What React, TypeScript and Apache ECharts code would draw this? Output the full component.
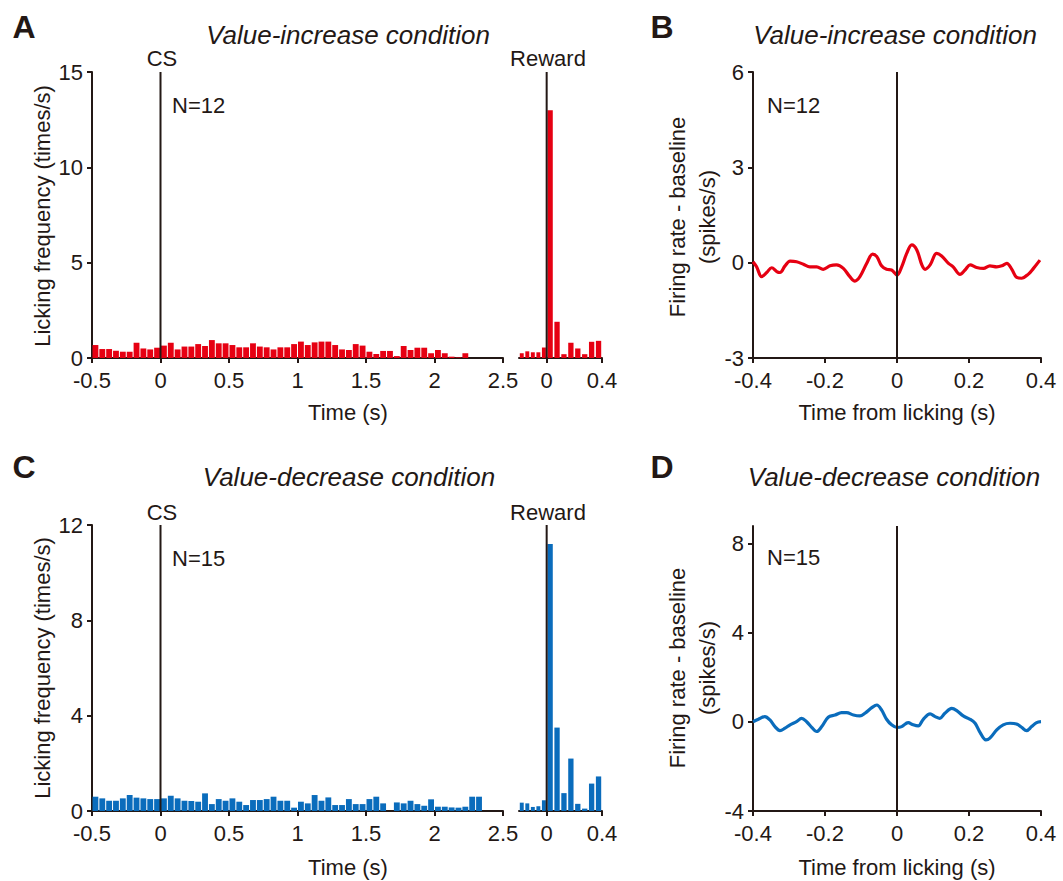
import React, { useEffect, useRef } from "react";
import * as echarts from "echarts";

// ---------- data ----------
// Licking histograms, 0.05 s bins from -0.5 s to 2.5 s (aligned to CS)
const csBinStart = -0.5;
const csBinWidth = 0.05;
const lickIncreaseCS = [
  0.68, 0.47, 0.47, 0.38, 0.33, 0.33, 0.8, 0.5, 0.45, 0.54,
  0.65, 0.8, 0.45, 0.6, 0.6, 0.73, 0.63, 0.94, 0.77, 0.77,
  0.68, 0.56, 0.56, 0.77, 0.6, 0.56, 0.45, 0.56, 0.56, 0.73,
  0.86, 0.68, 0.82, 0.86, 0.86, 0.68, 0.45, 0.42, 0.73, 0.65,
  0.33, 0.21, 0.37, 0.37, 0.1, 0.63, 0.42, 0.54, 0.54, 0.25,
  0.42, 0.25, 0.07, 0.03, 0.25, 0, 0, 0, 0, 0,
];
const lickDecreaseCS = [
  0.6, 0.53, 0.43, 0.43, 0.53, 0.67, 0.56, 0.53, 0.5, 0.5,
  0.53, 0.64, 0.53, 0.43, 0.42, 0.39, 0.74, 0.29, 0.5, 0.43,
  0.53, 0.39, 0.25, 0.46, 0.46, 0.5, 0.6, 0.43, 0.43, 0.14,
  0.39, 0.32, 0.67, 0.43, 0.57, 0.25, 0.25, 0.5, 0.29, 0.29,
  0.5, 0.6, 0.32, 0, 0.36, 0.32, 0.43, 0.29, 0.22, 0.49,
  0.18, 0.18, 0.15, 0.14, 0.18, 0.6, 0.6, 0, 0, 0,
];
// Reward-aligned histograms: pre-reward bins (0.04 s from -0.2 s), post-reward bins (0.05 s from 0 s)
const preRewardStart = -0.2;
const preRewardWidth = 0.04;
const postRewardStart = 0;
const postRewardWidth = 0.05;
const lickIncreasePre = [0.25, 0.35, 0.3, 0.3, 0.55];
const lickIncreasePost = [13.0, 1.9, 0.2, 0.8, 0.5, 0.2, 0.85, 0.9];
const lickDecreasePre = [0.35, 0.32, 0.17, 0.2, 0.45];
const lickDecreasePost = [11.2, 3.5, 0.75, 2.2, 0.3, 0.1, 1.15, 1.45];

// Firing rate - baseline, aligned to licking
const fireIncreaseT = [
  -0.4, -0.39, -0.376, -0.362, -0.348, -0.334, -0.325, -0.311, -0.297, -0.279,
  -0.26, -0.242, -0.223, -0.205, -0.186, -0.168, -0.149, -0.131, -0.117, -0.103,
  -0.084, -0.068, -0.056, -0.043, -0.029, -0.015, 0, 0.013, 0.027, 0.041,
  0.055, 0.069, 0.078, 0.092, 0.11, 0.124, 0.143, 0.156, 0.175, 0.189,
  0.203, 0.221, 0.24, 0.258, 0.277, 0.291, 0.305, 0.319, 0.332, 0.346,
  0.365, 0.379, 0.397,
];
const fireIncreaseV = [
  0.03, -0.13, -0.44, -0.31, -0.16, -0.28, -0.31, -0.1, 0.05, 0.03,
  -0.05, -0.13, -0.13, -0.21, -0.1, -0.07, -0.18, -0.44, -0.58, -0.44,
  -0.02, 0.27, 0.19, -0.1, -0.21, -0.23, -0.39, -0.13, 0.29, 0.56,
  0.4, -0.07, -0.21, -0.07, 0.29, 0.21, -0.02, -0.13, -0.37, -0.23,
  -0.07, -0.15, -0.18, -0.1, -0.13, -0.1, -0.02, -0.21, -0.46, -0.49,
  -0.36, -0.18, 0.08,
];
const fireDecreaseT = [
  -0.4, -0.385, -0.367, -0.353, -0.339, -0.325, -0.311, -0.297, -0.279, -0.265,
  -0.251, -0.237, -0.223, -0.209, -0.191, -0.172, -0.154, -0.14, -0.121, -0.103,
  -0.089, -0.07, -0.056, -0.043, -0.029, -0.015, 0, 0.013, 0.031, 0.045,
  0.059, 0.073, 0.092, 0.106, 0.119, 0.133, 0.152, 0.166, 0.184, 0.203,
  0.217, 0.231, 0.247, 0.258, 0.277, 0.295, 0.314, 0.332, 0.346, 0.36,
  0.374, 0.388, 0.4,
];
const fireDecreaseV = [
  0.01, 0.12, 0.24, 0.09, -0.21, -0.39, -0.28, -0.13, 0.01, 0.16,
  0.01, -0.24, -0.43, -0.21, 0.21, 0.31, 0.42, 0.42, 0.31, 0.27,
  0.39, 0.64, 0.76, 0.54, 0.12, -0.13, -0.25, -0.21, -0.03, -0.13,
  -0.18, 0.12, 0.36, 0.24, 0.16, 0.39, 0.61, 0.51, 0.27, 0.12,
  -0.06, -0.48, -0.81, -0.73, -0.36, -0.13, -0.06, -0.09, -0.24, -0.39,
  -0.21, -0.03, 0.01,
];

// axis tick labels
const csTicks = [-0.5, 0, 0.5, 1, 1.5, 2, 2.5];
const rewardTicks = [0, 0.4];
const lickTimeTicks = [-0.4, -0.2, 0, 0.2, 0.4];
const lickIncreaseYTicks = [0, 5, 10, 15];
const lickDecreaseYTicks = [0, 4, 8, 12];
const fireIncreaseYTicks = [-3, 0, 3, 6];
const fireDecreaseYTicks = [-4, 0, 4, 8];

// ---------- styling ----------
const FONT = '"Liberation Sans", Arial, Helvetica, sans-serif';
const INK = "#231815";
const RED = "#e60012";
const BLUE = "#0a6cbc";

function bins(values: number[], start: number, width: number) {
  return values.map((v, i) => [start + i * width, start + (i + 1) * width, v]);
}

function histSeries(data: number[][], axis: number, color: string, gap: number) {
  return {
    type: "custom",
    xAxisIndex: axis,
    yAxisIndex: axis,
    data,
    encode: { x: [0, 1], y: 2 },
    clip: true,
    z: 2,
    renderItem: (params: any, api: any) => {
      const a = api.coord([api.value(0), 0]);
      const b = api.coord([api.value(1), api.value(2)]);
      return {
        type: "rect",
        shape: {
          x: a[0] + gap / 2,
          y: b[1],
          width: Math.max(0, b[0] - a[0] - gap),
          height: Math.max(0, a[1] - b[1]),
        },
        style: { fill: color },
      };
    },
  };
}

function zeroLine(axis: number, y0: number, y1: number) {
  return {
    type: "line",
    xAxisIndex: axis,
    yAxisIndex: axis,
    data: [
      [0, y0],
      [0, y1],
    ],
    showSymbol: false,
    symbol: "none",
    lineStyle: { color: INK, width: 2 },
    z: 4,
    silent: true,
  };
}

function xAxis(grid: number, min: number, max: number, ticks: number[]) {
  return {
    type: "value",
    gridIndex: grid,
    min,
    max,
    axisLine: { show: true, onZero: false, lineStyle: { color: INK, width: 2 } },
    axisTick: { show: true, length: 5, customValues: ticks, lineStyle: { color: INK, width: 2 } },
    axisLabel: {
      show: true,
      customValues: ticks,
      margin: 11,
      fontSize: 22,
      fontFamily: FONT,
      color: INK,
      formatter: (v: number) => String(Math.round(v * 100) / 100),
    },
    splitLine: { show: false },
  };
}

function yAxis(grid: number, min: number, max: number, ticks: number[] | null) {
  if (!ticks) {
    return { type: "value", gridIndex: grid, min, max, show: false, splitLine: { show: false } };
  }
  return {
    type: "value",
    gridIndex: grid,
    min,
    max,
    axisLine: { show: true, onZero: false, lineStyle: { color: INK, width: 2 } },
    axisTick: { show: true, length: 5, customValues: ticks, lineStyle: { color: INK, width: 2 } },
    axisLabel: {
      show: true,
      customValues: ticks,
      margin: 9,
      fontSize: 22,
      fontFamily: FONT,
      color: INK,
    },
    splitLine: { show: false },
  };
}

function txt(text: string, x: number, y: number, font: string, align = "center", rotation = 0, lineHeight?: number) {
  return {
    type: "text",
    x,
    y,
    rotation,
    silent: true,
    style: {
      text,
      font,
      fill: INK,
      align,
      verticalAlign: "middle",
      textAlign: align,
      textVerticalAlign: "middle",
      lineHeight,
    },
  };
}

export default function App() {
  const ref = useRef<HTMLDivElement>(null);

  useEffect(() => {
    if (!ref.current) return;
    const chart = echarts.init(ref.current, undefined, { renderer: "svg" });

    const titleFont = `italic 26px ${FONT}`;
    const letterFont = `bold 32px ${FONT}`;
    const labelFont = `22px ${FONT}`;

    const option: any = {
      animation: false,
      backgroundColor: "#ffffff",
      grid: [
        { left: 92, top: 72, width: 411, height: 286 },
        { left: 519, top: 72, width: 83, height: 286 },
        { left: 753, top: 72, width: 288, height: 286 },
        { left: 92, top: 525, width: 411, height: 286 },
        { left: 519, top: 525, width: 83, height: 286 },
        { left: 753, top: 526, width: 288, height: 285 },
      ],
      xAxis: [
        xAxis(0, -0.5, 2.5, csTicks),
        xAxis(1, -0.2, 0.4, rewardTicks),
        xAxis(2, -0.4, 0.4, lickTimeTicks),
        xAxis(3, -0.5, 2.5, csTicks),
        xAxis(4, -0.2, 0.4, rewardTicks),
        xAxis(5, -0.4, 0.4, lickTimeTicks),
      ],
      yAxis: [
        yAxis(0, 0, 15, lickIncreaseYTicks),
        yAxis(1, 0, 15, null),
        yAxis(2, -3, 6, fireIncreaseYTicks),
        yAxis(3, 0, 12, lickDecreaseYTicks),
        yAxis(4, 0, 12, null),
        yAxis(5, -4, 8.8, fireDecreaseYTicks),
      ],
      series: [
        histSeries(bins(lickIncreaseCS, csBinStart, csBinWidth), 0, RED, 1),
        histSeries(
          bins(lickIncreasePre, preRewardStart, preRewardWidth).concat(
            bins(lickIncreasePost, postRewardStart, postRewardWidth)
          ),
          1,
          RED,
          1.6
        ),
        {
          type: "line",
          xAxisIndex: 2,
          yAxisIndex: 2,
          data: fireIncreaseT.map((t, i) => [t, fireIncreaseV[i]]),
          smooth: 0.35,
          showSymbol: false,
          symbol: "none",
          lineStyle: { color: RED, width: 3.2 },
          z: 3,
        },
        histSeries(bins(lickDecreaseCS, csBinStart, csBinWidth), 3, BLUE, 1),
        histSeries(
          bins(lickDecreasePre, preRewardStart, preRewardWidth).concat(
            bins(lickDecreasePost, postRewardStart, postRewardWidth)
          ),
          4,
          BLUE,
          1.6
        ),
        {
          type: "line",
          xAxisIndex: 5,
          yAxisIndex: 5,
          data: fireDecreaseT.map((t, i) => [t, fireDecreaseV[i]]),
          smooth: 0.35,
          showSymbol: false,
          symbol: "none",
          lineStyle: { color: BLUE, width: 3.2 },
          z: 3,
        },
        zeroLine(0, 0, 15),
        zeroLine(1, 0, 15),
        zeroLine(2, -3, 6),
        zeroLine(3, 0, 12),
        zeroLine(4, 0, 12),
        zeroLine(5, -4, 8.8),
      ],
      graphic: [
        // panel letters
        txt("A", 24, 27, letterFont),
        txt("B", 662, 27, letterFont),
        txt("C", 24, 467, letterFont),
        txt("D", 662, 467, letterFont),
        // titles
        txt("Value-increase condition", 348, 35, titleFont),
        txt("Value-increase condition", 895, 35, titleFont),
        txt("Value-decrease condition", 349, 477, titleFont),
        txt("Value-decrease condition", 894, 477, titleFont),
        // event labels
        txt("CS", 162, 58, labelFont),
        txt("Reward", 548, 58, labelFont),
        txt("CS", 162, 512, labelFont),
        txt("Reward", 548, 512, labelFont),
        txt("N=12", 172, 105, labelFont, "left"),
        txt("N=15", 172, 558, labelFont, "left"),
        txt("N=12", 767, 105, labelFont, "left"),
        txt("N=15", 767, 557, labelFont, "left"),
        // axis names
        txt("Licking frequency (times/s)", 42, 216, labelFont, "center", Math.PI / 2),
        txt("Licking frequency (times/s)", 42, 668, labelFont, "center", Math.PI / 2),
        txt("Firing rate - baseline\n(spikes/s)", 692, 217, labelFont, "center", Math.PI / 2, 30),
        txt("Firing rate - baseline\n(spikes/s)", 692, 668, labelFont, "center", Math.PI / 2, 30),
        txt("Time (s)", 348, 412, labelFont),
        txt("Time (s)", 348, 867, labelFont),
        txt("Time from licking (s)", 897, 412, labelFont),
        txt("Time from licking (s)", 897, 867, labelFont),
      ],
    };

    chart.setOption(option);
    return () => {
      chart.dispose();
    };
  }, []);

  return (
    <div
      ref={ref}
      style={{ position: "absolute", left: 0, top: 0, width: 1063, height: 881, background: "#fff" }}
    />
  );
}
